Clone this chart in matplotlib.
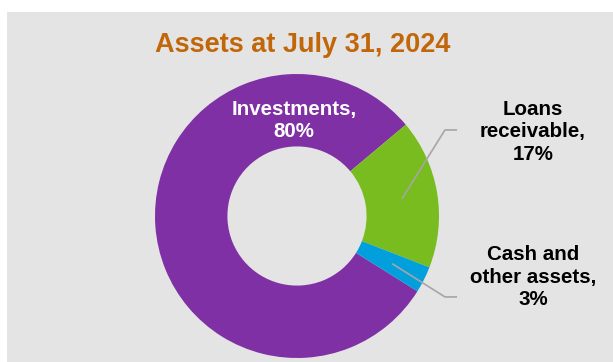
import numpy as np
import matplotlib.pyplot as plt
from matplotlib.patches import Rectangle

plt.rcParams['font.family'] = ['Liberation Sans', 'DejaVu Sans']

# data
labels = ["Investments", "Loans\nreceivable", "Cash and\nother assets"]
shares = [80, 17, 3]
colors = ["#7F30A4", "#78BC1F", "#019FDC"]

W, H = 613, 362
fig = plt.figure(figsize=(W/100, H/100), dpi=100)
fig.patch.set_facecolor("white")
# gray panel behind everything
fig.patches.append(Rectangle((7/W, 0), 1-7/W, 1-12/H, transform=fig.transFigure,
                             facecolor="#E4E4E4", edgecolor="none", zorder=-1))

# pixel -> data, radius 142 px, centre at (297, 216)
R, cx, cy = 142.0, 297.0, 216.0
ax = fig.add_axes([0, 0, 1, 1])
ax.set_zorder(1)
ax.patch.set_visible(False)

wedges, _ = ax.pie(shares, colors=colors, startangle=328, counterclock=False,
                   radius=1.0, wedgeprops=dict(width=0.51, edgecolor="none"))
# pie resets the limits, so set them afterwards
ax.set_xlim(-cx/R, (W-cx)/R)
ax.set_ylim(-(H-cy)/R, cy/R)
ax.set_aspect("equal")
ax.axis("off")

fig.text(303/W, 1-45/H, "Assets at July 31, 2024", ha="center", va="center",
         fontsize=19.5, fontweight="bold", color="#C2660A", zorder=2)

# investments label inside the ring
ax.text(-0.02, 0.676, "Investments,\n80%", ha="center", va="center", color="white",
        fontsize=14.8, fontweight="bold", linespacing=1.2)

# outside labels with leader lines
outside = [(1, 0.606, 0.592), (2, -0.570, -0.43)]
for i, ely, ty in outside:
    w = wedges[i]
    mid = np.deg2rad((w.theta1 + w.theta2) / 2)
    x0, y0 = 0.75*np.cos(mid), 0.75*np.sin(mid)
    ax.plot([x0, 1.042, 1.127], [y0, ely, ely], color="#A6A6A6", lw=1.2,
            solid_capstyle="butt")
    ax.text(1.662, ty, "%s,\n%d%%" % (labels[i], shares[i]), ha="center", va="center",
            fontsize=14.8, fontweight="bold", color="black", linespacing=1.22)

fig.savefig("out.png", dpi=100)
